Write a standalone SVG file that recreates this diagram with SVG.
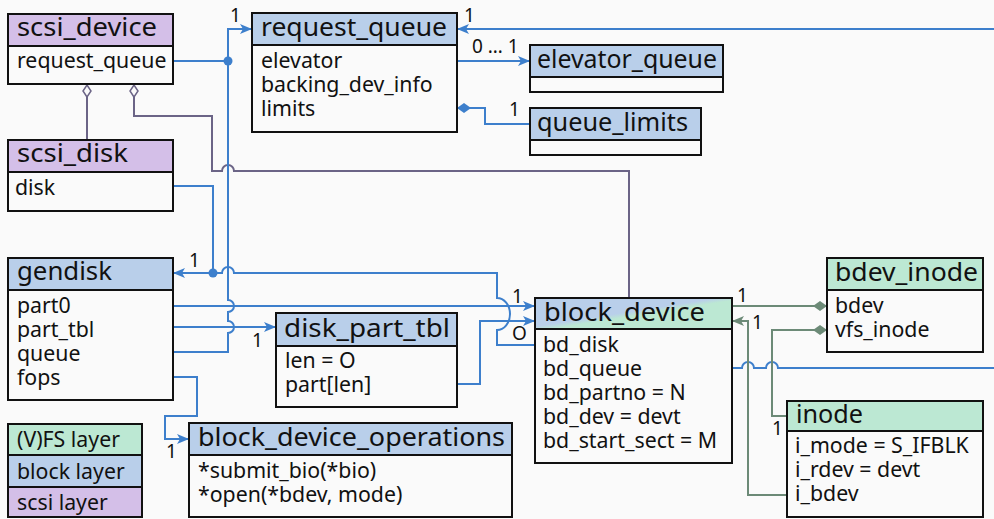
<svg xmlns="http://www.w3.org/2000/svg" width="994" height="519" viewBox="0 0 994 519">
  <style>
    .box { fill: #fafafa; stroke: #111; stroke-width: 2; }
    .scsi { fill: #d4bfe8; stroke: #111; stroke-width: 2; }
    .blk { fill: #b9cfea; stroke: #111; stroke-width: 2; }
    .fs { fill: #bce8d3; stroke: #111; stroke-width: 2; }
    .mix { fill: url(#blkfs); stroke: #111; stroke-width: 2; }
    .title { font-family: "Noto Sans", "Open Sans", sans-serif; font-size: 26px; fill: #111; }
    .field { font-family: "Noto Sans", "Open Sans", sans-serif; font-size: 21.3px; fill: #111; }
    .card { font-family: "Noto Sans", "Open Sans", sans-serif; font-size: 19px; fill: #111; }
    .wb { fill: none; stroke: #3d7fcc; stroke-width: 2; }
    .wg { fill: none; stroke: #6c8a77; stroke-width: 2; }
    .wp { fill: none; stroke: #6b6486; stroke-width: 2; }
  </style>
  <defs>
    <linearGradient id="blkfs" x1="0" y1="0" x2="1" y2="1">
      <stop offset="0.46" stop-color="#b9cfea"/>
      <stop offset="0.54" stop-color="#bce8d3"/>
    </linearGradient>
    <marker id="arrB" viewBox="0 0 12 12" refX="12" refY="6" markerWidth="12" markerHeight="12" markerUnits="userSpaceOnUse" orient="auto">
      <path d="M0,1 L12,6 L0,11 L3,6 z" fill="#3d7fcc"/>
    </marker>
    <marker id="arrG" viewBox="0 0 12 12" refX="12" refY="6" markerWidth="12" markerHeight="12" markerUnits="userSpaceOnUse" orient="auto">
      <path d="M0,1 L12,6 L0,11 L3,6 z" fill="#6c8a77"/>
    </marker>
    <marker id="dmB" viewBox="0 0 14 10" refX="14" refY="5" markerWidth="14" markerHeight="10" markerUnits="userSpaceOnUse" orient="auto">
      <path d="M0,5 L7,0 L14,5 L7,10 z" fill="#3d7fcc"/>
    </marker>
    <marker id="dmG" viewBox="0 0 14 10" refX="14" refY="5" markerWidth="14" markerHeight="10" markerUnits="userSpaceOnUse" orient="auto">
      <path d="M0,5 L7,0 L14,5 L7,10 z" fill="#6c8a77"/>
    </marker>
    <marker id="dmP" viewBox="0 0 14 10" refX="13" refY="5" markerWidth="14" markerHeight="10" markerUnits="userSpaceOnUse" orient="auto">
      <path d="M1,5 L7,1 L13,5 L7,9 z" fill="#fafafa" stroke="#6b6486" stroke-width="1.5"/>
    </marker>
  </defs>

  <rect width="994" height="519" fill="#fafafa"/>

  <!-- connectors -->
  <g id="connectors">
    <!-- scsi_disk / block_device aggregated into scsi_device -->
    <path class="wp" d="M87,140 V85" marker-end="url(#dmP)"/>
    <path class="wp" d="M629,298 V171 H234 A6,6 0 0 0 222,171 H212 V116 H134 V85" marker-end="url(#dmP)"/>

    <!-- request_queue pointers -->
    <path class="wb" d="M173,61 H228"/>
    <path class="wb" d="M173,352 H228 V333 A6,6 0 0 0 228,321 V312 A6,6 0 0 0 228,300 V29 H252" marker-end="url(#arrB)"/>
    <circle cx="228" cy="61" r="4.5" fill="#3d7fcc"/>
    <path class="wb" d="M732,368 H742 A6,6 0 0 1 754,368 H766 A6,6 0 0 1 778,368 H1000 V29 H457" marker-end="url(#arrB)"/>

    <!-- gendisk pointers -->
    <path class="wb" d="M173,186 H213 V273"/>
    <path class="wb" d="M535,345 H497 V330 A13,16 0 0 0 497,298 V273 H234 A6,6 0 0 0 222,273 H173" marker-end="url(#arrB)"/>
    <circle cx="213" cy="273" r="4.5" fill="#3d7fcc"/>

    <!-- gendisk fields -->
    <path class="wb" d="M173,306 H535" marker-end="url(#arrB)"/>
    <path class="wb" d="M173,327 H276" marker-end="url(#arrB)"/>
    <path class="wb" d="M173,377 H197 V416 H165 V439 H189" marker-end="url(#arrB)"/>
    <path class="wb" d="M457,384 H480 V321 H535" marker-end="url(#arrB)"/>

    <!-- request_queue fields -->
    <path class="wb" d="M457,61 H530" marker-end="url(#arrB)"/>
    <path class="wb" d="M530,124 H485 V108 H457" marker-end="url(#dmB)"/>

    <!-- vfs side -->
    <path class="wg" d="M732,306 H827" marker-end="url(#dmG)"/>
    <path class="wg" d="M787,416 H772 V330 H827" marker-end="url(#dmG)"/>
    <path class="wg" d="M787,495 H748 V321 H732" marker-end="url(#arrG)"/>

    <!-- multiplicities -->
    <text class="card" x="230" y="22">1</text>
    <text class="card" x="464" y="22">1</text>
    <text class="card" x="472" y="53">0 … 1</text>
    <text class="card" x="509" y="116">1</text>
    <text class="card" x="189" y="267">1</text>
    <text class="card" x="512" y="303">1</text>
    <text class="card" x="512" y="340">O</text>
    <text class="card" x="252" y="347">1</text>
    <text class="card" x="166" y="458">1</text>
    <text class="card" x="737" y="302">1</text>
    <text class="card" x="752" y="329">1</text>
    <text class="card" x="772" y="435">1</text>
  </g>

  <!-- scsi layer -->
  <g id="scsi_device">
    <rect class="box" x="8" y="46" width="165" height="38"/>
    <rect class="scsi" x="8" y="14" width="165" height="32"/>
    <text class="title" x="17" y="36" textLength="140" lengthAdjust="spacingAndGlyphs">scsi_device</text>
    <text class="field" x="17" y="68">request_queue</text>
  </g>
  <g id="scsi_disk">
    <rect class="box" x="8" y="172" width="165" height="39"/>
    <rect class="scsi" x="8" y="140" width="165" height="32"/>
    <text class="title" x="17" y="162" textLength="111" lengthAdjust="spacingAndGlyphs">scsi_disk</text>
    <text class="field" x="15" y="195">disk</text>
  </g>

  <!-- block layer -->
  <g id="request_queue">
    <rect class="box" x="252" y="45" width="205" height="87"/>
    <rect class="blk" x="252" y="13" width="205" height="32"/>
    <text class="title" x="261" y="36" textLength="186" lengthAdjust="spacingAndGlyphs">request_queue</text>
    <text class="field" x="261" y="68">elevator</text>
    <text class="field" x="261" y="92">backing_dev_info</text>
    <text class="field" x="261" y="116">limits</text>
  </g>
  <g id="elevator_queue">
    <rect class="box" x="530" y="77" width="193" height="15"/>
    <rect class="blk" x="530" y="45" width="193" height="32"/>
    <text class="title" x="537" y="68" textLength="180" lengthAdjust="spacingAndGlyphs">elevator_queue</text>
  </g>
  <g id="queue_limits">
    <rect class="box" x="530" y="140" width="171" height="15"/>
    <rect class="blk" x="530" y="108" width="171" height="32"/>
    <text class="title" x="537" y="131" textLength="151" lengthAdjust="spacingAndGlyphs">queue_limits</text>
  </g>
  <g id="gendisk">
    <rect class="box" x="8" y="290" width="165" height="110"/>
    <rect class="blk" x="8" y="258" width="165" height="32"/>
    <text class="title" x="17" y="280" textLength="95" lengthAdjust="spacingAndGlyphs">gendisk</text>
    <text class="field" x="17" y="313">part0</text>
    <text class="field" x="17" y="337">part_tbl</text>
    <text class="field" x="17" y="361">queue</text>
    <text class="field" x="17" y="385">fops</text>
  </g>
  <g id="disk_part_tbl">
    <rect class="box" x="276" y="346" width="181" height="61"/>
    <rect class="blk" x="276" y="313" width="181" height="33"/>
    <text class="title" x="284" y="337" textLength="166" lengthAdjust="spacingAndGlyphs">disk_part_tbl</text>
    <text class="field" x="285" y="368">len = O</text>
    <text class="field" x="285" y="392">part[len]</text>
  </g>
  <g id="block_device_operations">
    <rect class="box" x="189" y="455" width="323" height="62"/>
    <rect class="blk" x="189" y="423" width="323" height="32"/>
    <text class="title" x="198" y="446" textLength="307" lengthAdjust="spacingAndGlyphs">block_device_operations</text>
    <text class="field" x="198" y="478">*submit_bio(*bio)</text>
    <text class="field" x="198" y="502">*open(*bdev, mode)</text>
  </g>
  <g id="block_device">
    <rect class="box" x="535" y="329" width="197" height="134"/>
    <rect class="mix" x="535" y="298" width="197" height="31"/>
    <text class="title" x="544" y="321" textLength="161" lengthAdjust="spacingAndGlyphs">block_device</text>
    <text class="field" x="543" y="352">bd_disk</text>
    <text class="field" x="543" y="376">bd_queue</text>
    <text class="field" x="543" y="400">bd_partno = N</text>
    <text class="field" x="543" y="424">bd_dev = devt</text>
    <text class="field" x="543" y="448">bd_start_sect = M</text>
  </g>

  <!-- (V)FS layer -->
  <g id="bdev_inode">
    <rect class="box" x="827" y="290" width="156" height="62"/>
    <rect class="fs" x="827" y="258" width="156" height="32"/>
    <text class="title" x="835" y="281" textLength="143" lengthAdjust="spacingAndGlyphs">bdev_inode</text>
    <text class="field" x="835" y="313">bdev</text>
    <text class="field" x="835" y="337">vfs_inode</text>
  </g>
  <g id="inode">
    <rect class="box" x="787" y="431" width="196" height="86"/>
    <rect class="fs" x="787" y="401" width="196" height="30"/>
    <text class="title" x="796" y="423" textLength="67" lengthAdjust="spacingAndGlyphs">inode</text>
    <text class="field" x="795" y="453">i_mode = S_IFBLK</text>
    <text class="field" x="795" y="477">i_rdev = devt</text>
    <text class="field" x="795" y="501">i_bdev</text>
  </g>

  <!-- legend -->
  <g id="legend">
    <rect class="fs" x="8" y="424" width="134" height="31"/>
    <rect class="blk" x="8" y="455" width="134" height="32"/>
    <rect class="scsi" x="8" y="487" width="134" height="30"/>
    <text class="field" x="17" y="447">(V)FS layer</text>
    <text class="field" x="17" y="479">block layer</text>
    <text class="field" x="17" y="510">scsi layer</text>
  </g>
</svg>
